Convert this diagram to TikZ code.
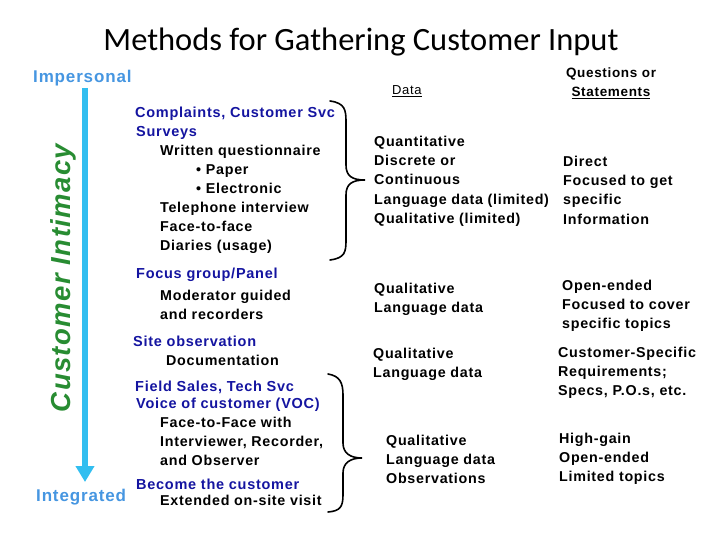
\documentclass[tikz,border=0pt]{standalone}
\usepackage{fontspec}
\setmainfont[LetterSpace=5]{Liberation Sans}
\newfontfamily\titlefont{Carlito}
\usetikzlibrary{arrows.meta}
\definecolor{dblue}{RGB}{20,20,160}
\definecolor{lblue}{RGB}{70,150,225}
\definecolor{cyanar}{RGB}{50,190,240}
\definecolor{gr}{RGB}{40,140,50}
\tikzset{
 t/.style={anchor=base west,inner sep=0pt,font=\fontsize{14.3}{17}\selectfont\bfseries},
 b/.style={t,text=dblue,font=\fontsize{14.5}{17}\selectfont\bfseries},
 brc/.style={line width=1.6pt,line cap=round}
}
\begin{document}
\begin{tikzpicture}[x=1pt,y=-1pt]
\useasboundingbox (0,0) rectangle (720,540);
\node[inner sep=0pt,font=\titlefont\fontsize{32.5}{36}\selectfont] (title) at (361,42) {Methods for Gathering Customer Input};
\node[t,text=lblue,font=\fontsize{17}{20}\selectfont\bfseries] (imp) at (33,83) {Impersonal};
\node[t,text=lblue,font=\fontsize{17}{20}\selectfont\bfseries] (int) at (36,501) {Integrated};
\coordinate (as) at (85,88); \coordinate (ae) at (85,482);
\draw[cyanar,line width=6pt,-{Triangle[length=16pt,width=18pt]}] (as) -- (ae);
\node[rotate=90,inner sep=0pt,text=gr,font=\fontsize{27.5}{30}\selectfont\bfseries\itshape] (ci) at (63,278) {Customer Intimacy};
% left column
\node[b] (a1) at (135,118) {Complaints, Customer Svc};
\node[b] (a2) at (136,137) {Surveys};
\node[t] (a3) at (160,156) {Written questionnaire};
\node[t] (a4) at (196,175) {• Paper};
\node[t] (a5) at (196,194) {• Electronic};
\node[t] (a6) at (160,213) {Telephone interview};
\node[t] (a7) at (160,232) {Face-to-face};
\node[t] (a8) at (160,251) {Diaries (usage)};
\node[b] (f1) at (136,278) {Focus group/Panel};
\node[t] (f2) at (160,300) {Moderator guided};
\node[t] (f3) at (160,319) {and recorders};
\node[b] (s1) at (133,346) {Site observation};
\node[t] (s2) at (166,365) {Documentation};
\node[b] (v1) at (135,391) {Field Sales, Tech Svc};
\node[b] (v2) at (136,408) {Voice of customer (VOC)};
\node[t] (v3) at (160,427) {Face-to-Face with};
\node[t] (v4) at (160,446) {Interviewer, Recorder,};
\node[t] (v5) at (160,465) {and Observer};
\node[b] (v6) at (136,489) {Become the customer};
\node[t] (v7) at (160,505) {Extended on-site visit};
% braces
\draw[brc] (330,101) .. controls (345,103) and (346,110) .. (346,122) -- (346,165)
  .. controls (346,176) and (352,180) .. (365,180)
  .. controls (352,180) and (346,184) .. (346,195) -- (346,240)
  .. controls (346,252) and (345,258) .. (330,260);
\draw[brc] (328,374) .. controls (340,376) and (343,383) .. (343,395) -- (343,443)
  .. controls (343,453) and (350,458) .. (362,458)
  .. controls (350,458) and (343,463) .. (343,473) -- (343,495)
  .. controls (343,507) and (340,511) .. (328,512);
% headers
\node[t,font=\fontsize{13}{16}\selectfont] (dh) at (392,95) {\underline{Data}};
\node[inner sep=0pt,anchor=base,font=\fontsize{13.5}{16}\selectfont\bfseries] (q1) at (611,78) {Questions or};
\node[inner sep=0pt,anchor=base,font=\fontsize{13.5}{16}\selectfont\bfseries] (q2) at (611,97) {\underline{Statements}};
% data col
\node[t] (d1) at (374,147) {Quantitative};
\node[t] (d2) at (374,166) {Discrete or};
\node[t] (d3) at (374,185) {Continuous};
\node[t] (d4) at (374,205) {Language data (limited)};
\node[t] (d5) at (374,224) {Qualitative (limited)};
\node[t] (e1) at (374,293) {Qualitative};
\node[t] (e2) at (374,312) {Language data};
\node[t] (g1) at (373,358) {Qualitative};
\node[t] (g2) at (373,377) {Language data};
\node[t] (h1) at (386,445) {Qualitative};
\node[t] (h2) at (386,464) {Language data};
\node[t] (h3) at (386,483) {Observations};
% question col
\node[t] (r1) at (563,167) {Direct};
\node[t] (r2) at (563,186) {Focused to get};
\node[t] (r3) at (563,205) {specific};
\node[t] (r4) at (563,225) {Information};
\node[t] (o1) at (562,290) {Open-ended};
\node[t] (o2) at (562,309) {Focused to cover};
\node[t] (o3) at (562,328) {specific topics};
\node[t] (c1) at (558,357) {Customer-Specific};
\node[t] (c2) at (558,376) {Requirements;};
\node[t] (c3) at (558,395) {Specs, P.O.s, etc.};
\node[t] (k1) at (559,443) {High-gain};
\node[t] (k2) at (559,462) {Open-ended};
\node[t] (k3) at (559,481) {Limited topics};
\end{tikzpicture}
\end{document}
